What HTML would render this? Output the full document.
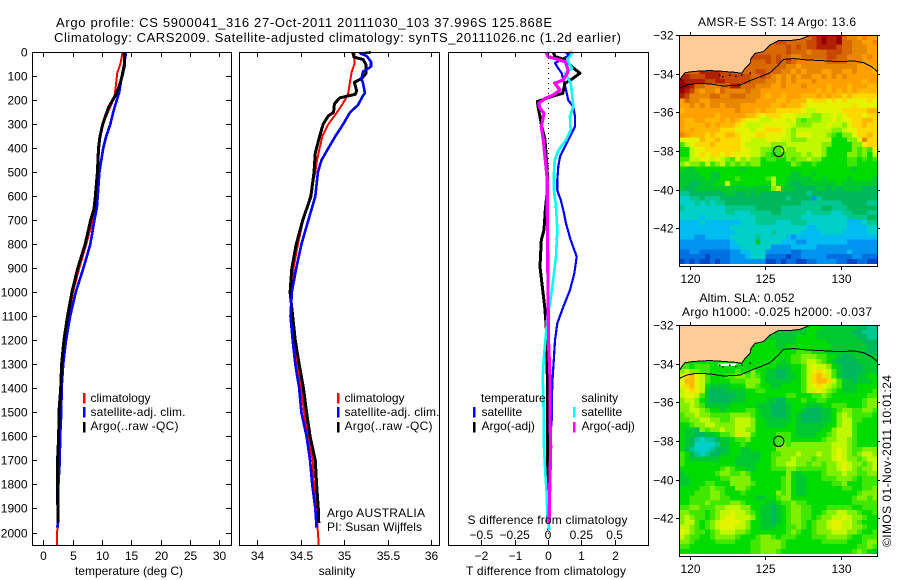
<!DOCTYPE html>
<html lang="en">
<head>
<meta charset="utf-8">
<title>Argo profile 5900041_316</title>
<style>
html,body{margin:0;padding:0;background:#fff;}
svg{display:block;font-family:"Liberation Sans",sans-serif;font-size:12px;fill:#000;}
</style>
</head>
<body>
<svg id="chart" xmlns="http://www.w3.org/2000/svg" width="900" height="580" viewBox="0 0 900 580">
<defs>
<clipPath id="clip-sst"><rect x="679" y="35" width="198" height="231"/></clipPath>
<clipPath id="clip-sla"><rect x="679" y="325" width="198" height="231"/></clipPath>
</defs>
<g id="layer-marks"></g>

<text x="56" y="27" font-size="13" textLength="496" lengthAdjust="spacing">Argo profile: CS 5900041_316 27-Oct-2011 20111030_103 37.996S 125.868E</text>
<text x="54" y="42" font-size="13" textLength="567" lengthAdjust="spacing">Climatology: CARS2009. Satellite-adjusted climatology: synTS_20111026.nc (1.2d earlier)</text>

<text x="129" y="575" text-anchor="middle">temperature (deg C)</text>
<text x="337" y="575" text-anchor="middle">salinity</text>
<text x="546" y="575" text-anchor="middle" textLength="160" lengthAdjust="spacing">T difference from climatology</text>
<text x="547.5" y="524" text-anchor="middle" textLength="160" lengthAdjust="spacing">S difference from climatology</text>

<rect x="83" y="393" width="2.5" height="10.5" fill="#f00"/>
<rect x="83" y="407" width="2.5" height="10.5" fill="#00f"/>
<rect x="83" y="422" width="2.5" height="10.5" fill="#000"/>
<text x="90.5" y="402">climatology</text>
<text x="90.5" y="416" textLength="95" lengthAdjust="spacing">satellite-adj. clim.</text>
<text x="90.5" y="430" textLength="88" lengthAdjust="spacing">Argo(..raw -QC)</text>

<rect x="337" y="393" width="2.5" height="10.5" fill="#f00"/>
<rect x="337" y="407" width="2.5" height="10.5" fill="#00f"/>
<rect x="337" y="422" width="2.5" height="10.5" fill="#000"/>
<text x="344.5" y="402">climatology</text>
<text x="344.5" y="416" textLength="95" lengthAdjust="spacing">satellite-adj. clim.</text>
<text x="344.5" y="430" textLength="88" lengthAdjust="spacing">Argo(..raw -QC)</text>

<text x="327" y="517" textLength="98" lengthAdjust="spacing">Argo AUSTRALIA</text>
<text x="327" y="531" textLength="95" lengthAdjust="spacing">PI: Susan Wijffels</text>

<text x="481" y="402">temperature</text>
<text x="581.5" y="402">salinity</text>
<rect x="473" y="407" width="2.5" height="10.5" fill="#00f"/>
<rect x="473" y="422" width="2.5" height="10.5" fill="#000"/>
<rect x="573" y="407" width="2.5" height="10.5" fill="#0ff"/>
<rect x="573" y="422" width="2.5" height="10.5" fill="#f0f"/>
<text x="481.5" y="416">satellite</text>
<text x="481.5" y="430">Argo(-adj)</text>
<text x="581.5" y="416">satellite</text>
<text x="581.5" y="430">Argo(-adj)</text>

<text x="777" y="26" text-anchor="middle" textLength="158" lengthAdjust="spacing">AMSR-E SST: 14 Argo: 13.6</text>
<text x="747" y="302" text-anchor="middle" textLength="95" lengthAdjust="spacing">Altim. SLA: 0.052</text>
<text x="777" y="316" text-anchor="middle" textLength="190" lengthAdjust="spacing">Argo h1000: -0.025 h2000: -0.037</text>
<text transform="translate(891,547) rotate(-90)" textLength="172" lengthAdjust="spacing">©IMOS 01-Nov-2011 10:01:24</text>
</svg>

<script>
// ---------- Profile data (depth in dbar) ----------
var depthTicks = [0,100,200,300,400,500,600,700,800,900,1000,1100,1200,1300,1400,1500,1600,1700,1800,1900,2000];
var tempTicks = [0,5,10,15,20,25,30];
var salTicks = [34,34.5,35,35.5,36];
var salTickLabels = ['34','34.5','35','35.5','36'];
var dTTicks = [-2,-1,0,1,2];
var dTTickLabels = ['\u22122','\u22121','0','1','2'];
var dSTicks = [-0.5,-0.25,0,0.25,0.5];
var dSTickLabels = ['\u22120.5','\u22120.25','0','0.25','0.5'];

var tempClimDepth = [0,50,85,170,200,250,300,350,400,500,600,700,800,900,1000,1100,1200,1300,1400,1500,1600,1700,1800,1900,2000,2054];
var tempClimValue = [13.5,13.1,12.6,12.2,11.9,11,10.1,9.7,9.5,9.3,9,8.4,7.3,6.1,5.05,4.25,3.55,3.15,2.95,2.9,2.75,2.7,2.5,2.45,2.35,2.35];
var tempSatDepth = [0,50,100,170,200,250,300,350,400,500,600,650,700,800,900,1000,1100,1200,1300,1400,1500,1600,1700,1800,1900,1980];
var tempSatValue = [14.1,13.75,13.35,12.9,12.5,11.9,11.4,10.7,10.2,9.55,9.25,9.1,8.7,8,6.8,5.5,4.55,3.85,3.38,3.1,3.05,2.85,2.8,2.55,2.5,2.4];
var tempArgoDepth = [0,50,90,120,170,200,230,300,350,400,500,600,650,700,800,900,1000,1100,1200,1300,1400,1500,1600,1700,1800,1900,1960];
var tempArgoValue = [13.75,13.85,13.5,13.2,12.5,11.8,11.1,10.1,9.65,9.4,9.2,8.85,8.65,8.05,7.1,5.85,4.85,4.1,3.5,3.1,2.95,2.65,2.6,2.4,2.4,2.45,2.5];

var salClimDepth = [0,50,80,120,170,200,250,300,350,400,450,500,600,700,800,900,1000,1100,1200,1300,1400,1500,1600,1700,1800,1900,2000,2054];
var salClimValue = [35.12,35.12,35.09,35.07,35.05,35.01,34.92,34.82,34.75,34.72,34.69,34.67,34.61,34.53,34.47,34.42,34.39,34.39,34.43,34.465,34.51,34.54,34.59,34.64,34.655,34.68,34.7,34.71];
var salSatDepth = [0,3,5,15,40,60,80,110,130,170,180,220,250,300,350,400,450,500,600,700,800,900,1000,1100,1200,1300,1400,1500,1600,1700,1800,1900,1980];
var salSatValue = [35.31,35.25,35.19,35.26,35.31,35.31,35.22,35.2,35.22,35.24,35.22,35.16,35.07,34.99,34.9,34.82,34.74,34.7,34.67,34.59,34.51,34.45,34.4,34.385,34.41,34.44,34.485,34.51,34.57,34.61,34.635,34.67,34.685];
var salArgoDepth = [0,20,30,50,90,110,125,160,175,190,215,250,265,300,350,420,500,600,700,800,900,1000,1100,1200,1300,1400,1500,1600,1700,1800,1900,1960];
var salArgoValue = [35.1,35.115,35.22,35.25,35.25,35.2,35.12,35.145,35.13,34.95,34.89,34.88,34.82,34.76,34.72,34.67,34.655,34.62,34.525,34.45,34.4,34.38,34.41,34.44,34.485,34.535,34.57,34.61,34.67,34.685,34.705,34.71];

var dTSatDepth = [0,5,10,45,67,87,115,157,200,226,268,310,337,393,435,476,532,574,615,657,713,782,851,921,990,1060,1129,1199,1268,1351,1449,1532,1615,1838,1990];
var dTSatValue = [0.71,0.56,0.66,0.21,0.31,0.41,0.46,0.54,0.61,0.76,0.81,0.81,0.71,0.51,0.36,0.31,0.28,0.28,0.38,0.46,0.54,0.68,0.86,0.79,0.66,0.46,0.28,0.21,0.18,0.14,0.11,0.11,0.06,0.06,0.01];
var dSSatDepth = [0,32,67,87,129,171,226,268,324,365,407,449,504,574,643,740,851,963,1046,1101,1171,1268,1351,1532,1643,1754,1838,1921,1990];
var dSSatValue = [0.185,0.145,0.18,0.13,0.17,0.18,0.19,0.165,0.17,0.135,0.08,0.05,0.045,0.045,0.06,0.07,0.06,0.035,0.015,-0.005,-0.015,-0.03,-0.04,-0.03,-0.03,-0.02,-0.01,-0.005,0.01];
var dTArgoDepth = [0,18,32,60,87,108,129,171,178,205,233,268,310,365,421,504,574,657,740,782,893,990,1060,1129,1185,1351,1600,1960];
var dTArgoValue = [0.16,0.21,0.54,0.71,0.96,0.76,0.51,0.44,0.26,-0.32,-0.29,-0.24,-0.19,-0.09,-0.06,-0.02,-0.02,-0.08,-0.12,-0.2,-0.24,-0.16,-0.1,-0.06,-0.04,-0.02,-0.02,-0.01];
var dSArgoDepth = [0,18,39,73,87,115,129,157,178,192,212,233,254,310,365,449,532,660,990,1129,1226,1351,1532,1643,1893,1960];
var dSArgoValue = [-0.015,0,0.13,0.15,0.145,0.115,0.05,0.09,0.04,-0.02,-0.07,-0.06,-0.03,-0.05,-0.035,-0.02,-0.005,-0.005,0,0.002,0.005,0.015,0.015,0.02,0.01,0.01];

// ---------- Map data (longitude / latitude) ----------
var lonTicks = [120,125,130];
var latTicks = [-32,-34,-36,-38,-40,-42];
var coastLon = [119.32,119.47,119.69,120.13,120.68,121.34,121.89,122.44,123,123.44,123.66,123.99,124.05,124.32,124.87,125.31,125.86,126.63,127.29,127.73,128.06];
var coastLat = [-34.36,-34.16,-33.95,-33.9,-33.86,-33.84,-33.86,-33.9,-33.93,-33.98,-33.72,-33.47,-33.21,-32.95,-32.86,-32.52,-32.29,-32.29,-32.22,-32.09,-32];
var shelfLon = [119.32,119.8,120.46,121.34,122.22,123.33,123.99,124.65,125.31,125.86,126.19,126.85,127.73,128.83,129.93,130.81,131.48,132.03,132.4];
var shelfLat = [-34.76,-34.59,-34.5,-34.53,-34.64,-34.59,-34.36,-34.16,-33.95,-33.55,-33.26,-33.22,-33.29,-33.33,-33.38,-33.34,-33.43,-33.64,-33.9];
var isletLon = [121.95,122.15,122.6,123,123.4,123.95];
var isletLat = [-34.05,-34.12,-34.05,-34.1,-34.05,-33.95];
var floatLon = 125.868;
var floatLat = -37.996;

// Gridded colour levels per cell, row = north to south, one character per 1/3 degree of longitude.
var gridWest = 119.32;
var gridLonStep = 0.3354;
var gridLatStep = 0.252;
var sstGrid = [
"hhhhhhhhhhhhhhhhhhhhhhhhhhijkjjkhggfgff",
"hhhhhhhhhhhhhhhhhhhiihhhhiijkjjkhhggffg",
"hhhhhhhhhhhhhhhhhhhhhihihiijjjjihhgggff",
"hhhhhhhhhhhhhhhhhhhhhihhhghhhiiihhgggff",
"hhhhhhhhhhhhiiiiiihihhgghhhhhiihhgggfgf",
"hhhhhhhhhhhhhhhhhihihihgggggghhhhgggfff",
"hhhhhhhhhhhhhhhhhhhhhggfgggggggggggffff",
"hhhhjjjjiiihhhhiihhhggfgfgggffggffgfffe",
"jjiiijjjiiiiiihhihgfgfgfggffgfgfgffffff",
"kjjjjiijjiiiiihhhggfgfgfffgfffffffffeff",
"kkjhhggghhjjhhhgggffgfffgffffefffefffee",
"kjigfggfhgggghggfffffffffffefefefefeeee",
"jigggghhgghhhgggfeffefffeeefefeededdddd",
"fhggffgggggggggffffeefeeecdddcdcdccccdc",
"ffgfgfggfgggffffffeefeeedcccccccccdcccc",
"effffffffffgfffefeedddddcbbcccccdddddee",
"fffffffefffffeedcdddcccbbbaabbcbcdddcdd",
"feeffeeefefedcccbbcccbca9aaabbcbccddeed",
"feeeefefeeedcbbbccccccbaaabbbcbbacddedd",
"fefeeeeedddcccbccdddcbabbbbbbbaabccdddd",
"gfeeededdeedcccddccccbacccbbba98aacdded",
"cccceddeddddccbbbcccbbaaabbbbb888aacgdd",
"9bcdddedddddcbbbbbaaabbbbbbbaa8888aacdd",
"88bccdddddddccbbaa99baabbbbba88888a9a9c",
"88bcdcddcdccccbba9899aaababba8888aa9a8b",
"99bbccbcba9cabaa89988a9aabaa88888998989",
"abaa9b9ab9a9a9aa888888a9889888888998888",
"877888888888788888888888888888888878888",
"777788778888888888888877887888888888888",
"777778778889888889b88777778878888788887",
"776677788b88888888b88766777777787777777",
"766777777777777777ab7776666776767777666",
"556666666776676766666666656666666666666",
"445565556666666666666566662566666666666",
"444545455666666666666666555555556666655",
"544444444555555666665555555566555666666",
"444444444554445555665555545555445566655",
"444434444444444555555555444444444555566",
"333343333333444555544455544444444333455",
"333333333344444444444444433444444333344",
"333333333334444444544444333344443333344",
"333223333344444544444323333333333333333",
"222222222234444744443332233333333222222",
"222222222233444444222233333222222222222",
"112211111122334442222211222222222322222",
"111110111122234441111011222221111122111",
"010100101122222220010110011222211001100"
];
var slaGrid = [
"777777777777777777777777788877777776655",
"777777777777777777777777788777777766555",
"777777777777777777777778888777777776655",
"888888888888888888877778888887777777666",
"888888888888888888877888888888777777766",
"888888888888888888888889998887777777766",
"888888888888888888888899aaa998876677777",
"888888888888888888887899abba98766667777",
"9989998888888888888777889bcbba876666777",
"abaa9988888988a8877667889bcdcb976666777",
"bdecb988899aa9a9877667789bdedb976667788",
"ceecb98888999aaa877777889bdeedb97767778",
"cdecb87777888aa9887788889bcdcba97778888",
"bcdcb76667777889988888889bbcba987778889",
"bccb976666677888888889988899a9888888899",
"abba876666777888877668889889988888889aa",
"aaba977777888887776667888777889998889aa",
"aabba988788889987766678876667789aa99aa9",
"9aabaa9999aaaa98776667876666778aba99998",
"99aabbaa99abbba8877777876666778abb99888",
"889aabbaaaabbba8877778877777788abb98888",
"8776a9aabaabbaa888888887777788abbb98888",
"8776677899abbb9888899987777889abbb98888",
"8765455677899a888889998888889aabba98888",
"87644445778898888889a9aaaaaaaabbba98888",
"8654445667887788888aaaaaaaaaaabcba99aaa",
"98654566778877778899aaabaaabaabcba9abba",
"9877777788877777889aaabaaa9aaabcbaa9abb",
"9888888888877778889aabbaa9aa9aabcbaa9ab",
"888888889a98877888999aa999999aabcba9aab",
"78888889aa99a98888888a8788889aaabaa99aa",
"7788888899aaaa8888889a877888999aaa98999",
"7788899888aaaa9888889a8778888899a888999",
"888899a9988aa98888889a8778888888998899a",
"888999aa98889888888a9a87788888888889aaa",
"889999aa998888877889aa8888888888889aa9a",
"88999a9999aa9888877899a9988888888899999",
"99aa999aabbbaa88776789aa998889999988999",
"aa99989abbcbba98776789aa99889aabbaa9889",
"aba9989abccbbba8776789aa9989aabbcbaa988",
"abb989abccccba88776789aa989aabccbba9888",
"bba989abcccbba887778899a989aabccbbaa988",
"cba9989abbbaa988888889a9889aaabbbaa9889",
"ba99889aaaa98889aa98999888999aaaa988999",
"aa98888999988899aaaa98888888999998889aa",
"9988888888888899aaaa98888888888888899a9",
"8888888888888899aaa9888888888888889a987"
];
var levelColors = {
  '0':'#0048c8','1':'#0070e0','2':'#0094f0','3':'#00bcf0','4':'#00d0c8','5':'#00c890','6':'#00b85c',
  '7':'#00c830','8':'#00dc00','9':'#40e800','a':'#80f000','b':'#c0f800','c':'#e4f400','d':'#ffd800',
  'e':'#ffb800','f':'#ffa000','g':'#e88800','h':'#d86800','i':'#c84800','j':'#b02000','k':'#980000'
};
// Small missing-data gaps along the coast in the altimetry field.
var slaGapWest = [121.9];
var slaGapEast = [123.1];
var slaGapNorth = [-33.98];
var slaGapSouth = [-34.12];

// ---------- Axis functions ----------
function yDepth(d){ return 52.3 + d * 0.2401; }
function xTemp(t){ return 43.4 + t * 5.867; }
function xSal(s){ return 257 + (s - 34) * 87; }
function xDT(v){ return 548 + v * 33.33; }
function xDS(v){ return 548 + v * 133.3; }
function xLon(lon){ return 689.7 + (lon - 120) * 15.13; }
function yLat(lat, top){ return top + (-32 - lat) * 19.33; }

var NS = 'http://www.w3.org/2000/svg';
var root = document.getElementById('layer-marks');
function make(tag, attrs, parent){
  var e = document.createElementNS(NS, tag);
  for (var k in attrs) e.setAttribute(k, attrs[k]);
  (parent || root).appendChild(e);
  return e;
}
function linePoints(depths, values, xf){
  return depths.map(function(d, i){ return xf(values[i]).toFixed(1) + ',' + yDepth(d).toFixed(1); }).join(' ');
}
function drawProfile(depths, values, xf, color, width, name){
  var line = make('polyline', {points: linePoints(depths, values, xf), fill: 'none', stroke: color, 'stroke-width': width, 'shape-rendering': 'crispEdges', 'stroke-linejoin': 'round'});
  
  
}

// ---------- Depth panels ----------
var panels = [
  {name:'temperature-panel', x0:32, x1:231},
  {name:'salinity-panel', x0:239, x1:439},
  {name:'difference-panel', x0:448, x1:648}
];
function drawFrame(x0, y0, x1, y1, name){
  var frame = make('rect', {x:x0+0.5, y:y0+0.5, width:x1-x0, height:y1-y0, fill:'none', stroke:'#000', 'stroke-width':1, 'shape-rendering':'crispEdges'});
  
  
}
function tickLine(x1, y1, x2, y2, name){
  var t = make('line', {x1:x1, y1:y1, x2:x2, y2:y2, stroke:'#000', 'stroke-width':1, 'shape-rendering':'crispEdges'});
  
  
}
function label(x, y, str, anchor, name){
  var t = make('text', {x:x, y:y, 'text-anchor':anchor});
  t.textContent = str;
  
  
}

// zero reference for the difference panel
var zeroLine = make('line', {x1:xDT(0)+0.5, y1:53, x2:xDT(0)+0.5, y2:545, stroke:'#000', 'stroke-width':1, 'stroke-dasharray':'1 4', 'shape-rendering':'crispEdges'});



drawProfile(tempClimDepth, tempClimValue, xTemp, '#f00', 2, 'temperature-climatology-line');
drawProfile(tempSatDepth, tempSatValue, xTemp, '#00f', 2.6, 'temperature-satellite-line');
drawProfile(tempArgoDepth, tempArgoValue, xTemp, '#000', 3, 'temperature-argo-line');
drawProfile(salClimDepth, salClimValue, xSal, '#f00', 2, 'salinity-climatology-line');
drawProfile(salArgoDepth, salArgoValue, xSal, '#000', 3, 'salinity-argo-line');
drawProfile(salSatDepth, salSatValue, xSal, '#00f', 2.6, 'salinity-satellite-line');
drawProfile(dTSatDepth, dTSatValue, xDT, '#00f', 2.2, 't-diff-satellite-line');
drawProfile(dTArgoDepth, dTArgoValue, xDT, '#000', 3, 't-diff-argo-line');
drawProfile(dSSatDepth, dSSatValue, xDS, '#0ff', 2.6, 's-diff-satellite-line');
drawProfile(dSArgoDepth, dSArgoValue, xDS, '#f0f', 3.2, 's-diff-argo-line');

panels.forEach(function(p){ drawFrame(p.x0, 52, p.x1, 545, p.name + '-frame'); });

depthTicks.forEach(function(d){
  var y = Math.round(yDepth(d)) + 0.5;
  tickLine(32, y, 37, y, 'depth-tick-left-' + d);
  tickLine(226, y, 231, y, 'depth-tick-right-' + d);
  label(27.5, y + 4, String(d), 'end', 'depth-label-' + d);
});
tempTicks.forEach(function(v){
  var x = Math.round(xTemp(v)) + 0.5;
  tickLine(x, 52, x, 57, 'temperature-tick-top-' + v);
  tickLine(x, 540, x, 545, 'temperature-tick-bottom-' + v);
  label(x, 560, String(v), 'middle', 'temperature-label-' + v);
});
salTicks.forEach(function(v, i){
  var x = Math.round(xSal(v)) + 0.5;
  tickLine(x, 52, x, 57, 'salinity-tick-top-' + v);
  tickLine(x, 540, x, 545, 'salinity-tick-bottom-' + v);
  label(x, 560, salTickLabels[i], 'middle', 'salinity-label-' + v);
});
dTTicks.forEach(function(v, i){
  var x = Math.round(xDT(v)) + 0.5;
  tickLine(x, 52, x, 57, 't-diff-tick-top-' + v);
  tickLine(x, 540, x, 545, 't-diff-tick-bottom-' + v);
  label(x, 560, dTTickLabels[i], 'middle', 't-diff-label-' + v);
});
dSTicks.forEach(function(v, i){
  label(xDS(v), 539, dSTickLabels[i], 'middle', 's-diff-label-' + v);
});

// ---------- Maps ----------
function drawMap(grid, top, mapName, clipId){
  var group = make('g', {'clip-path':'url(#' + clipId + ')', 'shape-rendering':'crispEdges'});
  
  
  grid.forEach(function(row, r){
    var rowTop = yLat(-32 - r * gridLatStep, top);
    var rowBottom = yLat(-32 - (r + 1) * gridLatStep, top);
    for (var c = 0; c < 39; c++){
      var code = row.charAt(c) || row.charAt(row.length - 1);
      var left = xLon(gridWest + c * gridLonStep);
      var right = xLon(gridWest + (c + 1) * gridLonStep);
      var cell = make('rect', {x:left.toFixed(2), y:rowTop.toFixed(2), width:(right-left+0.3).toFixed(2), height:(rowBottom-rowTop+0.3).toFixed(2), fill:levelColors[code]}, group);
      
      
    }
  });
  var overlay = make('g', {'clip-path':'url(#' + clipId + ')'});
  
  
  var coastPts = coastLon.map(function(lon, i){ return xLon(lon).toFixed(1) + ',' + yLat(coastLat[i], top).toFixed(1); });
  var landPts = coastPts.concat([xLon(coastLon[coastLon.length-1]).toFixed(1) + ',' + (top-2), xLon(coastLon[0]-1).toFixed(1) + ',' + (top-2), xLon(coastLon[0]-1).toFixed(1) + ',' + yLat(coastLat[0], top).toFixed(1)]);
  var land = make('polygon', {points:landPts.join(' '), fill:'#ffcc99', 'shape-rendering':'crispEdges'}, overlay);
  
  
  if (mapName === 'sla-map') {
    slaGapWest.forEach(function(w, i){
      var gap = make('rect', {x:xLon(w).toFixed(1), y:yLat(slaGapNorth[i], top).toFixed(1), width:(xLon(slaGapEast[i])-xLon(w)).toFixed(1), height:(yLat(slaGapSouth[i], top)-yLat(slaGapNorth[i], top)).toFixed(1), fill:'#fff', 'shape-rendering':'crispEdges'}, overlay);
      
      
    });
  }
  var coast = make('polyline', {points:coastPts.join(' '), fill:'none', stroke:'#000', 'stroke-width':1, 'shape-rendering':'crispEdges'}, overlay);
  
  
  var shelfPts = shelfLon.map(function(lon, i){ return xLon(lon).toFixed(1) + ',' + yLat(shelfLat[i], top).toFixed(1); });
  var shelf = make('polyline', {points:shelfPts.join(' '), fill:'none', stroke:'#000', 'stroke-width':1, 'shape-rendering':'crispEdges'}, overlay);
  
  
  isletLon.forEach(function(lon, i){
    var islet = make('rect', {x:xLon(lon).toFixed(1), y:yLat(isletLat[i], top).toFixed(1), width:1.5, height:1.5, fill:'#000', 'shape-rendering':'crispEdges'}, overlay);
    
    
  });
  var marker = make('circle', {cx:(xLon(floatLon)+0.2).toFixed(1), cy:(yLat(floatLat, top)+0.4).toFixed(1), r:5.2, fill:'none', stroke:'#000', 'stroke-width':1});
  
  

  var bottom = top + 231;
  drawFrame(679, top, 877, bottom, mapName + '-frame');
  lonTicks.forEach(function(lon){
    var x = Math.round(xLon(lon)) + 0.5;
    tickLine(x, top - 3, x, top, mapName + '-lon-tick-top-' + lon);
    tickLine(x, bottom, x, bottom + 4, mapName + '-lon-tick-bottom-' + lon);
    label(x, bottom + 17, String(lon), 'middle', mapName + '-lon-label-' + lon);
  });
  latTicks.forEach(function(lat){
    var y = Math.round(yLat(lat, top)) + 0.5;
    tickLine(676, y, 679, y, mapName + '-lat-tick-left-' + lat);
    tickLine(877, y, 880, y, mapName + '-lat-tick-right-' + lat);
    label(673.5, y + 4, '\u2212' + Math.abs(lat), 'end', mapName + '-lat-label-' + lat);
  });
}
drawMap(sstGrid, 35, 'sst-map', 'clip-sst');
drawMap(slaGrid, 325, 'sla-map', 'clip-sla');
</script>
</body>
</html>
